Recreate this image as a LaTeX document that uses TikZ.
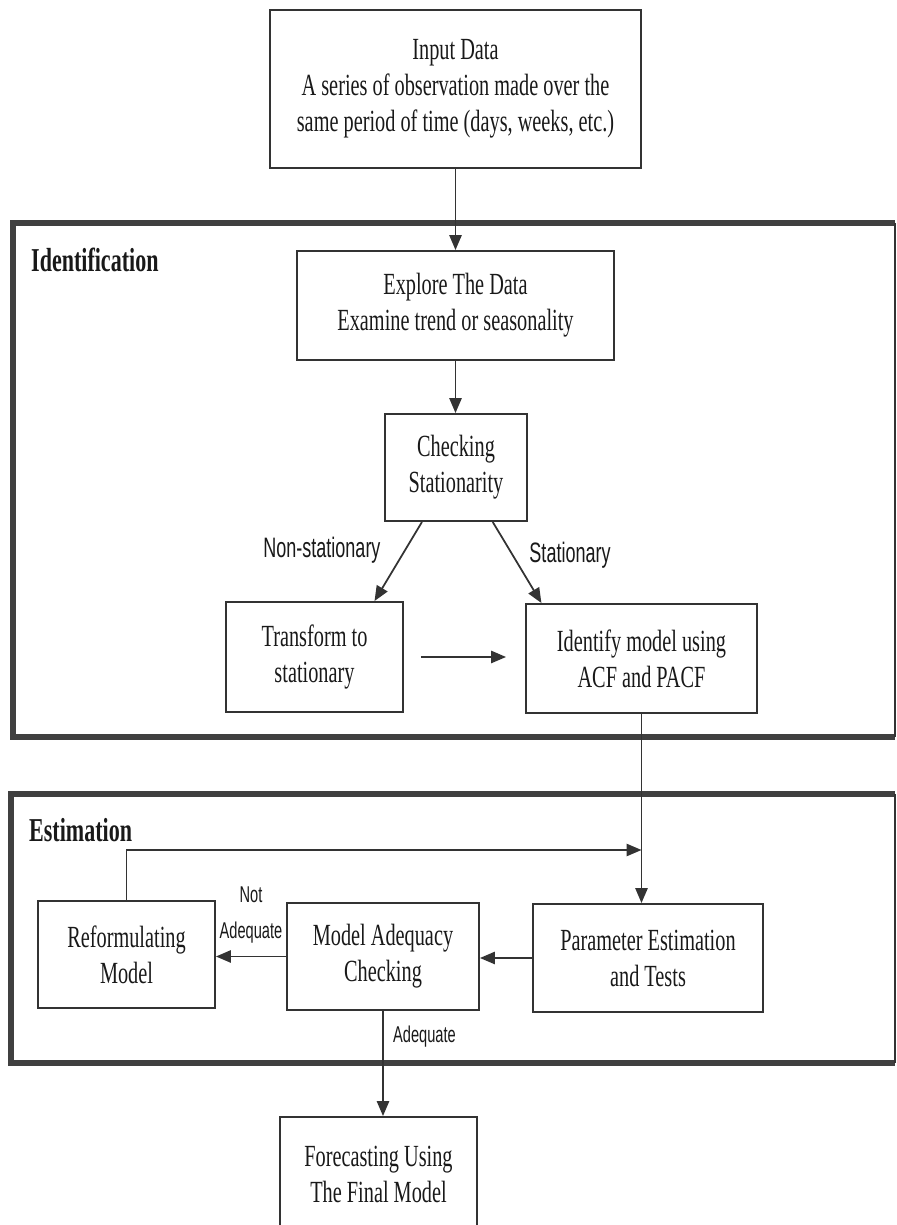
\documentclass[tikz,border=0pt]{standalone}
\usepackage{fontspec}
\setmainfont{Liberation Serif}[FakeStretch=0.66]
\newfontfamily\lblfont{Liberation Sans}[FakeStretch=0.64]
\usetikzlibrary{arrows, arrows.meta}

\tikzset{
	box/.style={draw=black!80, line width=1.1pt, align=center, inner sep=2pt, text=black!90, font=\fontsize{17.5}{20.5}\selectfont},
	lbl/.style={text=black!90, font=\lblfont\fontsize{16}{18}\selectfont},
	smalllbl/.style={text=black!90, align=center, font=\lblfont\fontsize{13}{20.5}\selectfont},
	title/.style={anchor=west, text=black!90, font=\bfseries\fontsize{19}{22}\selectfont},
	frame/.style={line width=3pt, draw=black!75},
	conn/.style={line width=1pt, draw=black!80},
}

\begin{document}
\begin{tikzpicture}[>={Triangle[length=8.5pt, width=7pt]}]
			\useasboundingbox (0,0) rectangle (17.92,24.5);
			
			\draw[frame] (17.9,20.04) -- (0.26,20.04) -- (0.26,9.76) -- (17.9,9.76);
			\draw[conn] (17.9,20.04) -- (17.9,9.76);
			\draw[frame] (17.9,8.62) -- (0.22,8.62) -- (0.22,3.24) -- (17.9,3.24);
			\draw[conn] (17.9,8.62) -- (17.9,3.24);
			\node[title] (ident) at (0.5,19.3) {Identification};
			\node[title] (estim) at (0.46,7.9) {Estimation};
			
			\node[box, minimum width=7.42cm, minimum height=3.16cm] (input) at (9.11,22.72) {Input Data\\A series of observation made over the\\same period of time (days, weeks, etc.)};
			\node[box, minimum width=6.34cm, minimum height=2.18cm] (explore) at (9.11,18.39) {Explore The Data\\Examine trend or seasonality};
			\node[box, minimum width=2.84cm, minimum height=2.14cm] (checking) at (9.12,15.15) {Checking\\Stationarity};
			\node[box, minimum width=3.54cm, minimum height=2.2cm] (transform) at (6.29,11.36) {Transform to\\stationary};
			\node[box, minimum width=4.62cm, minimum height=2.18cm] (acf) at (12.83,11.33) {Identify model using\\ACF and PACF};
			\node[box, minimum width=3.54cm, minimum height=2.14cm] (reform) at (2.53,5.41) {Reformulating\\Model};
			\node[box, minimum width=3.84cm, minimum height=2.14cm] (model) at (7.66,5.37) {Model Adequacy\\Checking};
			\node[box, minimum width=4.6cm, minimum height=2.16cm] (param) at (12.96,5.34) {Parameter Estimation\\and Tests};
			\node[box, minimum width=3.94cm, minimum height=2.3cm] (forecast) at (7.57,1.01) {Forecasting Using\\The Final Model};
			
			\node[lbl] (nonstat) at (6.44,13.5) {Non-stationary};
			\node[lbl] (stat) at (11.4,13.4) {Stationary};
			\node[smalllbl] (notadq) at (5.02,6.2) {Not\\Adequate};
			\node[smalllbl, anchor=west] (adq) at (7.74,3.76) {Adequate};
			
			\coordinate (loop) at (acf.south |- 0,7.5);
			
			\draw[conn, ->] (input.south) -- (input.south |- explore.north);
			\draw[conn, ->] (explore.south) -- (explore.south |- checking.north);
			\draw[conn, ->] (checking.238) -- (transform.43);
			\draw[conn, ->] (checking.304) -- (acf.151);
			\draw[conn, ->, shorten <=0.34cm, shorten >=0.38cm] (transform.east) -- (transform.east -| acf.west);
			\draw[conn, ->] (acf.south) -- (acf.south |- param.north);
			\draw[conn, ->] (param.west) -- (param.west -| model.east);
			\draw[conn, ->] (model.west) -- (model.west -| reform.east);
			\draw[conn, ->] (reform.north) |- (loop);
			\draw[conn, ->] (model.south) -- (model.south |- forecast.north);
		\end{tikzpicture}
\end{document}
